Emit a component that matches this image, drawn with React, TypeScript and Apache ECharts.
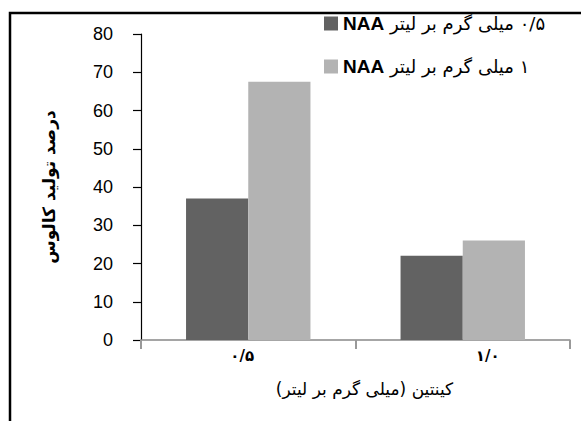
import React, { useEffect, useRef } from "react";
import * as echarts from "echarts";

const categories = ["۰/۵", "۱/۰"];
const doses = ["۰/۵", "۱"];
const unitText = "میلی گرم بر لیتر";
const hormone = "NAA";
const seriesNames = ["۰/۵ میلی گرم بر لیتر NAA", "۱ میلی گرم بر لیتر NAA"];
const naaValues05 = [37, 67.5];
const naaValues1 = [22, 26];
const yTicks = { min: 0, max: 80, interval: 10 };
const yTitle = "درصد تولید کالوس";
const xTitle = "کینتین (میلی گرم بر لیتر)";
const colors = ["#626262", "#b3b3b3"];

// right-to-left marks keep the whole title in right-to-left order
const rtl = (s: string) => `\u200F${s}\u200F`;

export default function App() {
  const ref = useRef<HTMLDivElement>(null);
  useEffect(() => {
    if (!ref.current) return;
    const chart = echarts.init(ref.current, null, { renderer: "svg" });
    const dark = [naaValues05[0], naaValues1[0]];
    const light = [naaValues05[1], naaValues1[1]];
    chart.setOption({
      animation: false,
      backgroundColor: "#fff",
      grid: { left: 141, right: 11, top: 34, bottom: 81, containLabel: false },
      legend: {
        orient: "vertical",
        left: 319,
        top: 9,
        itemWidth: 14,
        itemHeight: 14,
        itemGap: 24,
        icon: "rect",
        data: seriesNames,
        formatter: (name: string) => {
          const i = seriesNames.indexOf(name);
          return `{b|${hormone}}{n| }{n|${unitText}}{n| }{n|${doses[i]}}`;
        },
        textStyle: {
          rich: {
            b: { fontFamily: "Liberation Sans", fontWeight: "bold", fontSize: 19, color: "#000", lineHeight: 16 },
            n: { fontFamily: "DejaVu Sans", fontSize: 18, color: "#000", lineHeight: 16 },
          },
        },
      },
      xAxis: {
        type: "category",
        data: categories,
        name: rtl(xTitle),
        nameLocation: "middle",
        nameGap: 40,
        nameTextStyle: {
          padding: [0, 0, 0, 18],
          fontFamily: "DejaVu Sans",
          fontSize: 17,
          color: "#000",
        },
        axisLine: { lineStyle: { color: "#888", width: 1.5 } },
        axisTick: { show: true, length: 9, lineStyle: { color: "#999", width: 2 }, alignWithLabel: false },
        axisLabel: {
          margin: 8,
          formatter: (v: string, i: number) => `{c${i}|${v}}`,
          rich: {
            c0: { fontSize: 15, color: "#000", fontFamily: "DejaVu Sans", fontWeight: "bold", padding: [0, 12, 0, 0] },
            c1: { fontSize: 15, color: "#000", fontFamily: "DejaVu Sans", fontWeight: "bold", padding: [0, 0, 0, 50] },
          },
        },
        splitLine: { show: false },
      },
      yAxis: {
        type: "value",
        min: yTicks.min,
        max: yTicks.max,
        interval: yTicks.interval,
        name: rtl(yTitle),
        nameLocation: "middle",
        nameRotate: 90,
        nameGap: 84,
        nameTextStyle: { fontFamily: "DejaVu Sans", fontSize: 17, color: "#000", fontWeight: "bold" },
        axisLine: { show: true, lineStyle: { color: "#000", width: 1.2 } },
        axisTick: { show: true, inside: false, length: 8, lineStyle: { color: "#000", width: 1.2 } },
        axisLabel: { margin: 28, fontSize: 18, color: "#000", fontFamily: "Liberation Sans" },
        splitLine: { show: false },
      },
      series: [
        { name: seriesNames[0], type: "bar", data: dark, barWidth: "29%", barGap: "0%", itemStyle: { color: colors[0] } },
        { name: seriesNames[1], type: "bar", data: light, barWidth: "29%", barGap: "0%", itemStyle: { color: colors[1] } },
      ],
      graphic: [
        {
          type: "rect",
          shape: { x: 10, y: 13, width: 640, height: 460 },
          style: { fill: "none", stroke: "#000", lineWidth: 2.5 },
          silent: true,
          z: 100,
        },
      ],
    });
    return () => chart.dispose();
  }, []);
  return <div ref={ref} style={{ width: 581, height: 421, position: "absolute", left: 0, top: 0 }} />;
}
